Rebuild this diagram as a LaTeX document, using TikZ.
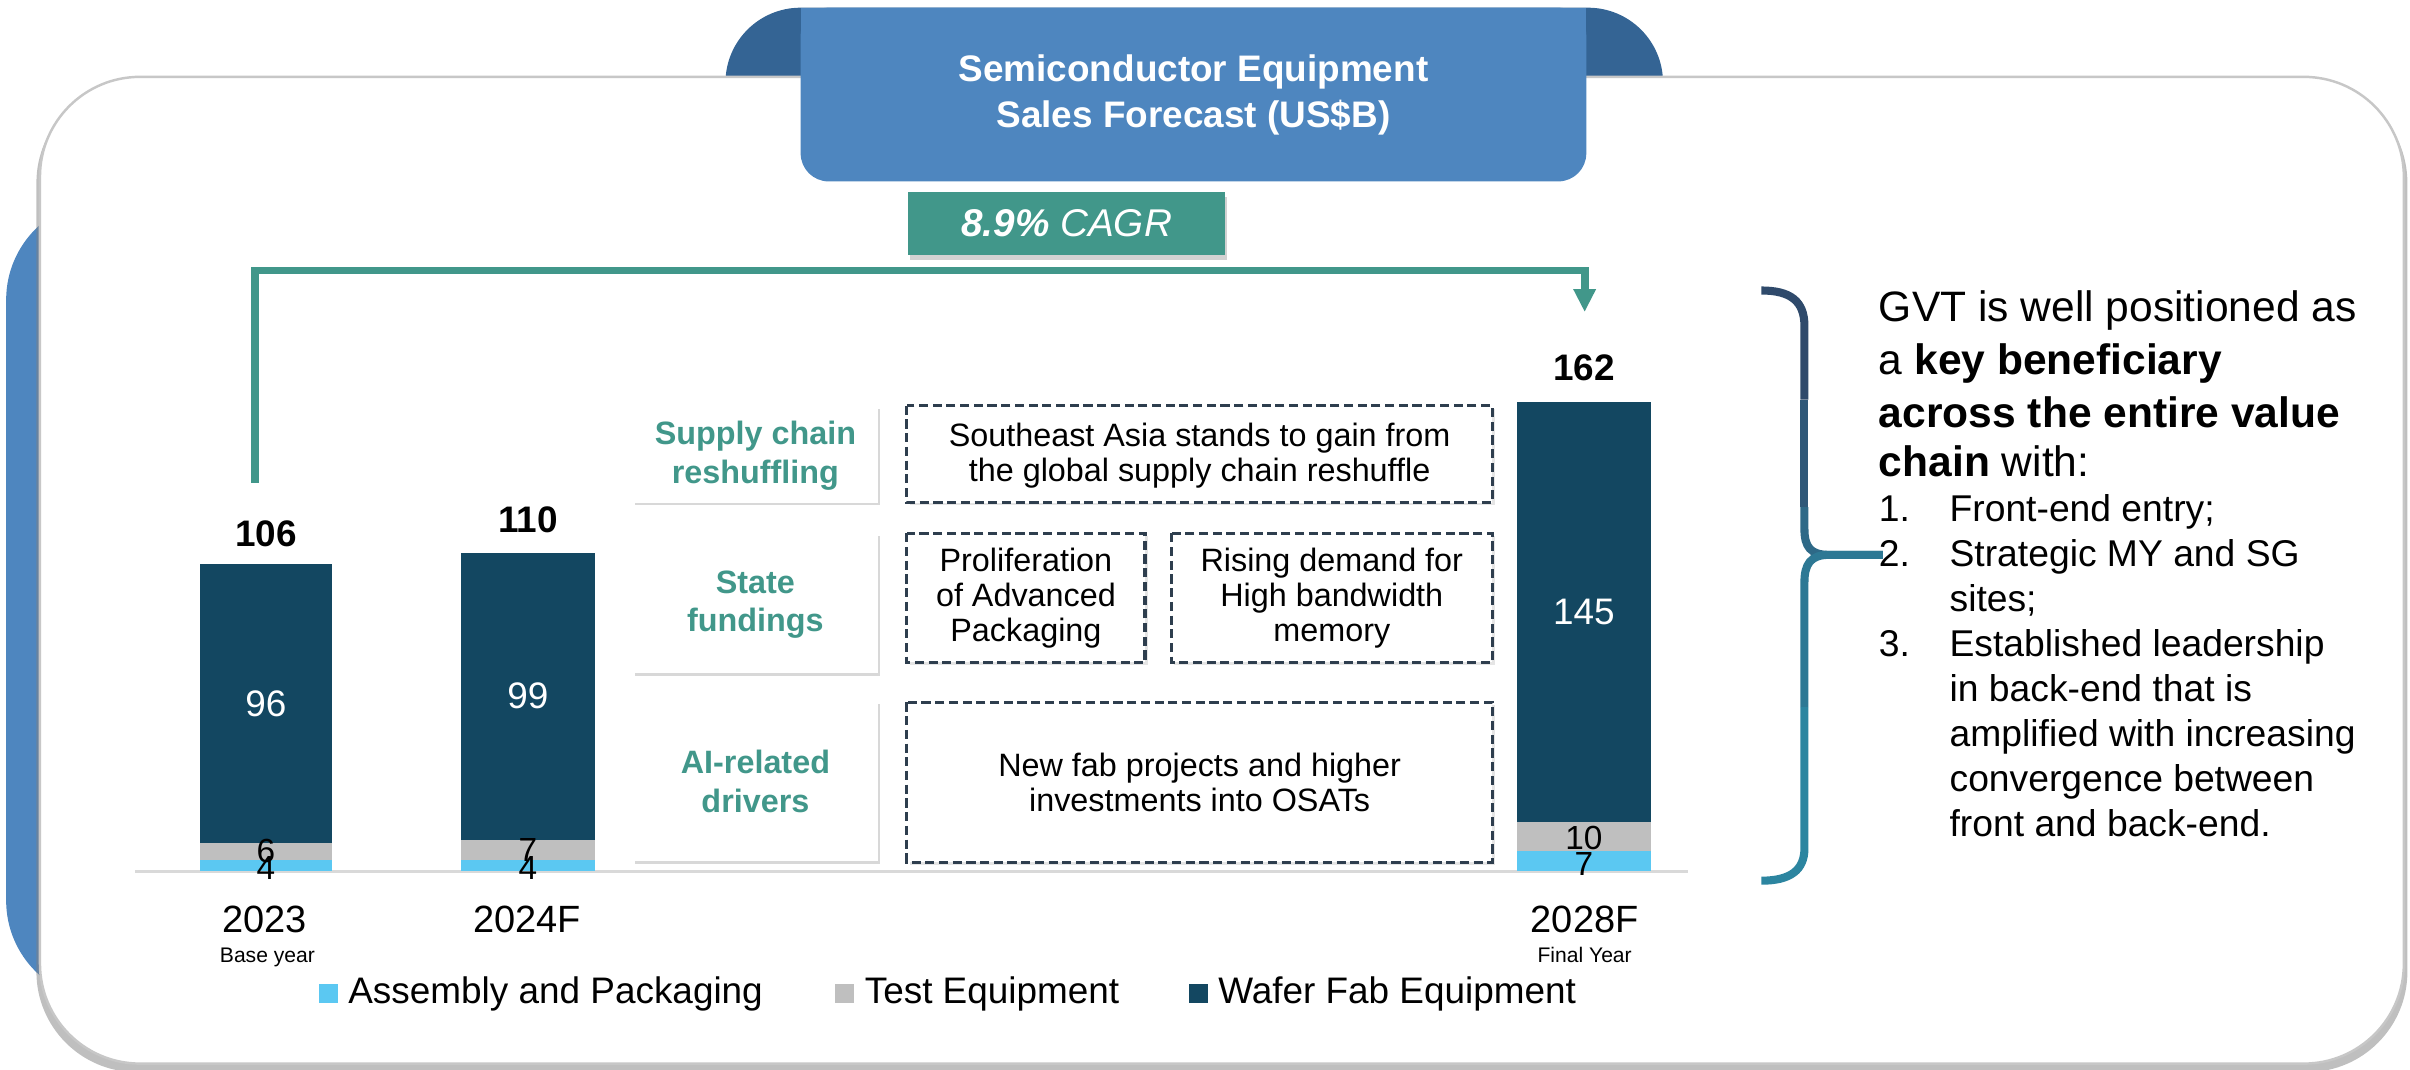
\documentclass[tikz,border=0pt]{standalone}
\usepackage{fontspec}
\setmainfont{Liberation Sans}
\usetikzlibrary{arrows.meta,shadows,positioning}

\definecolor{tabblue}{HTML}{346494}
\definecolor{headblue}{HTML}{4E86BF}
\definecolor{cagrgreen}{HTML}{41978A}
\definecolor{wfeblue}{HTML}{134761}
\definecolor{testgray}{HTML}{BFBFBF}
\definecolor{apblue}{HTML}{5BC8F2}
\definecolor{dashgray}{HTML}{2E3E4E}
\definecolor{bracea}{HTML}{2F4A6B}
\definecolor{braceb}{HTML}{2F5878}
\definecolor{bracec}{HTML}{2E6987}
\definecolor{braced}{HTML}{2D7894}
\definecolor{bracee}{HTML}{2C85A0}

\tikzset{
  headbox/.style={fill=headblue, rounded corners=0.28cm, minimum width=7.854cm,
    minimum height=1.737cm, text=white, align=center,
    font=\bfseries\fontsize{10.5}{13.1}\selectfont},
  cagrbox/.style={fill=cagrgreen, minimum width=3.166cm, minimum height=0.63cm,
    text=white, font=\fontsize{11}{13}\selectfont,
    drop shadow={shadow xshift=0.5pt, shadow yshift=-1.5pt, opacity=0.35}},
  cagrline/.style={draw=cagrgreen, line width=2.2pt, -{Triangle[width=6pt,length=6.5pt]}},
  totval/.style={font=\bfseries\fontsize{10.5}{12}\selectfont},
  inval/.style={text=white, font=\fontsize{10.5}{12}\selectfont},
  smallval/.style={inner sep=0pt, font=\fontsize{9.5}{11}\selectfont},
  yearlab/.style={font=\fontsize{10.8}{12}\selectfont},
  subyear/.style={font=\fontsize{6}{7}\selectfont},
  drvbox/.style={fill=white, drop shadow={shadow xshift=0.6pt, shadow yshift=-0.8pt, opacity=0.3}},
  dashbox/.style={draw=dashgray, line width=0.9pt, dash pattern=on 2.6pt off 1.3pt,
    fill=white, drop shadow={shadow xshift=0.8pt, shadow yshift=-0.8pt, opacity=0.2}},
  drvtext/.style={text=cagrgreen, align=center, font=\bfseries\fontsize{9.2}{10.9}\selectfont},
  boxtext/.style={align=center, font=\fontsize{9.2}{10}\selectfont},
  bracepart/.style={line width=2.3pt},
  rtext/.style={anchor=base west, inner sep=0pt, font=\fontsize{12.1}{14}\selectfont},
  ltext/.style={anchor=base west, inner sep=0pt, font=\fontsize{10.6}{12.7}\selectfont},
  legsq/.style={minimum size=0.19cm, inner sep=0pt},
  legtext/.style={inner sep=0pt, font=\fontsize{10.5}{12}\selectfont},
}

\begin{document}
\begin{tikzpicture}[x=0.01537cm, y=-0.01537cm]
  \useasboundingbox (0,0) rectangle (1568,696);

  %% frame
  \fill[headblue, rounded corners=1cm] (4,130) rectangle (1560,651);
  \fill[tabblue, rounded corners=0.75cm] (472,5) rectangle (1082,120);
  \fill[white, draw=black!22, line width=0.7pt, rounded corners=1cm,
    drop shadow={shadow xshift=0pt, shadow yshift=-2pt, shadow scale=1.003, opacity=0.5}]
    (26,50) rectangle (1564,692);

  %% title
  \fill[headblue] (521,5) rectangle (1032,60);
  \node[headbox] (head) at (776.5,61.5) {Semiconductor Equipment\\Sales Forecast (US\$B)};
  \node[cagrbox] (cagr) at (694,145.5) {\textbf{\textit{8.9\%}} \textit{CAGR}};

  %% axis
  \draw[black!15, line width=1pt] (88,567) -- (1098,567);

  %% bar 2023
  \fill[apblue] (130,567) rectangle (216,559.5);
  \fill[testgray] (130,559.5) rectangle (216,548.2);
  \fill[wfeblue] (130,548.2) rectangle (216,367.1);
  \node[inval] (w23) at (173,457.6) {96};
  \node[smallval] (g23) at (173,554) {6};
  \node[smallval] (a23) at (173,565) {4};
  \node[totval] (t23) at (173,347) {106};
  \node[yearlab] (y23) at (172,598) {2023};
  \node[subyear] (b23) at (174,623) {Base year};

  %% bar 2024F
  \fill[apblue] (300,567) rectangle (387,559.5);
  \fill[testgray] (300,559.5) rectangle (387,546.3);
  \fill[wfeblue] (300,546.3) rectangle (387,359.5);
  \node[inval] (w24) at (343.5,453) {99};
  \node[smallval] (g24) at (343.5,553) {7};
  \node[smallval] (a24) at (343.5,565) {4};
  \node[totval] (t24) at (343.5,338) {110};
  \node[yearlab] (y24) at (343,598) {2024F};

  %% bar 2028F
  \fill[apblue] (987,567) rectangle (1074,553.8);
  \fill[testgray] (987,553.8) rectangle (1074,534.9);
  \fill[wfeblue] (987,534.9) rectangle (1074,261.3);
  \node[inval] (w28) at (1030.5,398) {145};
  \node[smallval] (g28) at (1030.5,545) {10};
  \node[smallval] (a28) at (1030.5,562) {7};
  \node[totval] (t28) at (1030.5,239) {162};
  \node[yearlab] (y28) at (1031,598) {2028F};
  \node[subyear] (f28) at (1031,621) {Final Year};

  %% CAGR arrow
  \coordinate (cagrs) at (166,314);
  \coordinate (cagrtop) at (600,176);
  \coordinate (cagre) at (1031,203);
  \draw[cagrline] (cagrs) |- (cagrtop) -| (cagre);

  %% drivers
  \fill[drvbox] (412,264) rectangle (571,327);
  \fill[drvbox] (412,347) rectangle (571,438);
  \fill[drvbox] (412,456) rectangle (571,560);
  \node[drvtext] (d1) at (491.5,296.5) {Supply chain\\reshuffling};
  \node[drvtext] (d2) at (491.5,393.5) {State\\fundings};
  \node[drvtext] (d3) at (491.5,508.5) {AI-related\\drivers};

  \draw[dashbox] (590,264) rectangle (971,327);
  \draw[dashbox] (590,347) rectangle (745,431);
  \draw[dashbox] (762,347) rectangle (971,431);
  \draw[dashbox] (590,457) rectangle (971,561);
  \node[boxtext] (e1) at (780.5,296.5) {Southeast Asia stands to gain from\\the global supply chain reshuffle};
  \node[boxtext] (e2) at (667.5,389) {Proliferation\\of Advanced\\Packaging};
  \node[boxtext] (e3) at (866.5,389) {Rising demand for\\High bandwidth\\memory};
  \node[boxtext] (e4) at (780.5,509) {New fab projects and higher\\investments into OSATs};

  %% brace
  \draw[bracepart, bracea] (1146,189) .. controls (1165,189) and (1174,196) .. (1174,212) -- (1174,260);
  \draw[bracepart, braceb] (1174,260) -- (1174,330);
  \draw[bracepart, bracec] (1174,330) -- (1174,344) .. controls (1174,356) and (1178,361) .. (1190,361) -- (1225,361);
  \draw[bracepart, braced] (1225,361) -- (1190,361) .. controls (1178,361) and (1174,367) .. (1174,379) -- (1174,460);
  \draw[bracepart, bracee] (1174,460) -- (1174,552) .. controls (1174,566) and (1165,573) .. (1146,573);

  %% text
  \node[rtext] (r1) at (1222,209.4) {GVT is well positioned as};
  \node[rtext] (r2) at (1222,243.9) {a \textbf{key beneficiary}};
  \node[rtext] (r3) at (1222,277.9) {\textbf{across the entire value}};
  \node[rtext] (r4) at (1222,309.9) {\textbf{chain} with:};
  \node[ltext] (n1) at (1222,339.3) {1.};
  \node[ltext] (l1) at (1268,339.3) {Front-end entry;};
  \node[ltext] (n2) at (1222,368.6) {2.};
  \node[ltext] (l2) at (1268,368.6) {Strategic MY and SG};
  \node[ltext] (l3) at (1268,397.9) {sites;};
  \node[ltext] (n3) at (1222,427.2) {3.};
  \node[ltext] (l4) at (1268,427.2) {Established leadership};
  \node[ltext] (l5) at (1268,456.5) {in back-end that is};
  \node[ltext] (l6) at (1268,485.8) {amplified with increasing};
  \node[ltext] (l7) at (1268,515.1) {convergence between};
  \node[ltext] (l8) at (1268,544.4) {front and back-end.};

  %% legend
  \node[legsq, fill=apblue] (kap) at (213.7,646.5) {};
  \node[legtext, right=0.09cm of kap] (lap) {Assembly and Packaging};
  \node[legsq, fill=testgray] (kte) at (549.7,646.5) {};
  \node[legtext, right=0.09cm of kte] (lte) {Test Equipment};
  \node[legsq, fill=wfeblue] (kwf) at (779.7,646.5) {};
  \node[legtext, right=0.09cm of kwf] (lwf) {Wafer Fab Equipment};
\end{tikzpicture}
\end{document}
